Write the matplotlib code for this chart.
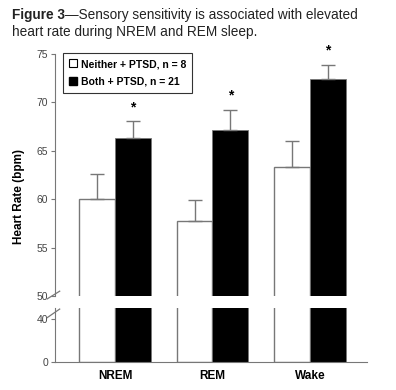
import matplotlib.pyplot as plt
from matplotlib.patches import Patch

plt.rcParams['font.family'] = ['Liberation Sans', 'DejaVu Sans']

# data
stages = ['NREM', 'REM', 'Wake']
neither = [60.0, 57.8, 63.3]
neither_err = [2.6, 2.1, 2.7]
both = [66.3, 67.2, 72.4]
both_err = [1.8, 2.0, 1.5]
stars = [69.5, 70.7, 75.4]
labels = ['Neither + PTSD, n = 8', 'Both + PTSD, n = 21']

grey = '#777777'
w = 0.365
x = list(range(len(stages)))
xl = [i - w / 2 for i in x]
xr = [i + w / 2 for i in x]

fig = plt.figure(figsize=(3.96, 3.90), dpi=100)
ax = fig.add_axes([0.1389, 0.241, 0.7879, 0.6205])
ax2 = fig.add_axes([0.1389, 0.0726, 0.7879, 0.1377])

for a in (ax, ax2):
    a.bar(xl, neither, w, color='white', edgecolor=grey, linewidth=1.0)
    a.bar(xr, both, w, color='black', edgecolor=grey, linewidth=0.6)
    a.set_xlim(-0.615, 2.585)
    for s in ('top', 'right'):
        a.spines[s].set_visible(False)
    a.spines['left'].set_color(grey)
    a.tick_params(axis='y', colors='#444444', labelsize=7.5, length=3, width=0.8,
                  direction='out', pad=2)
    a.tick_params(axis='y', color=grey)

ax.errorbar(xl, neither, yerr=[[0] * 3, neither_err], fmt='none', ecolor=grey,
            elinewidth=1, capsize=5, capthick=1)
ax.errorbar(xr, both, yerr=[[0] * 3, both_err], fmt='none', ecolor=grey,
            elinewidth=1, capsize=5, capthick=1)
for xi, yi in zip(xr, stars):
    ax.text(xi, yi, '*', ha='center', va='center', fontsize=10, fontweight='bold',
            clip_on=False)

ax.set_ylim(50, 75)
ax.set_yticks([50, 55, 60, 65, 70, 75])
ax.spines['bottom'].set_visible(False)
ax.set_xticks([])
ax.set_ylabel('Heart Rate (bpm)', fontsize=8.5, fontweight='bold')
ax.yaxis.set_label_coords(-0.095, 0.41)

ax2.set_ylim(0, 50)
ax2.set_yticks([0, 40])
ax2.spines['bottom'].set_color(grey)
ax2.set_xticks(x)
ax2.set_xticklabels(stages, fontsize=8.5, fontweight='bold')
ax2.tick_params(axis='x', length=0, pad=6)

# break marks
kw = dict(color=grey, lw=0.9, clip_on=False)
ax.plot([-0.025, 0.015], [-0.012, 0.02], transform=ax.transAxes, **kw)
ax2.plot([-0.025, 0.015], [0.82, 0.98], transform=ax2.transAxes, **kw)

handles = [Patch(facecolor='white', edgecolor='black', linewidth=0.8),
           Patch(facecolor='black', edgecolor='black')]
leg = ax.legend(handles, labels, loc='upper left', bbox_to_anchor=(0.025, 1.005),
                prop={'weight': 'bold', 'size': 7.5}, frameon=True,
                fancybox=False, handlelength=0.8, handleheight=0.8,
                handletextpad=0.3, borderpad=0.6, labelspacing=0.7, borderaxespad=0)
leg.get_frame().set_edgecolor('black')
leg.get_frame().set_linewidth(0.8)

t1 = fig.text(0.03, 0.962, 'Figure 3', fontsize=9.8, fontweight='bold', va='center',
              ha='left', color='#222222')
fig.canvas.draw()
bb = t1.get_window_extent()
x0 = bb.x1 / fig.bbox.width
fig.text(x0, 0.962, '—Sensory sensitivity is associated with elevated', fontsize=9.8,
         va='center', ha='left', color='#222222')
fig.text(0.03, 0.918, 'heart rate during NREM and REM sleep.', fontsize=9.8,
         va='center', ha='left', color='#222222')

fig.savefig('out.png', dpi=100)
